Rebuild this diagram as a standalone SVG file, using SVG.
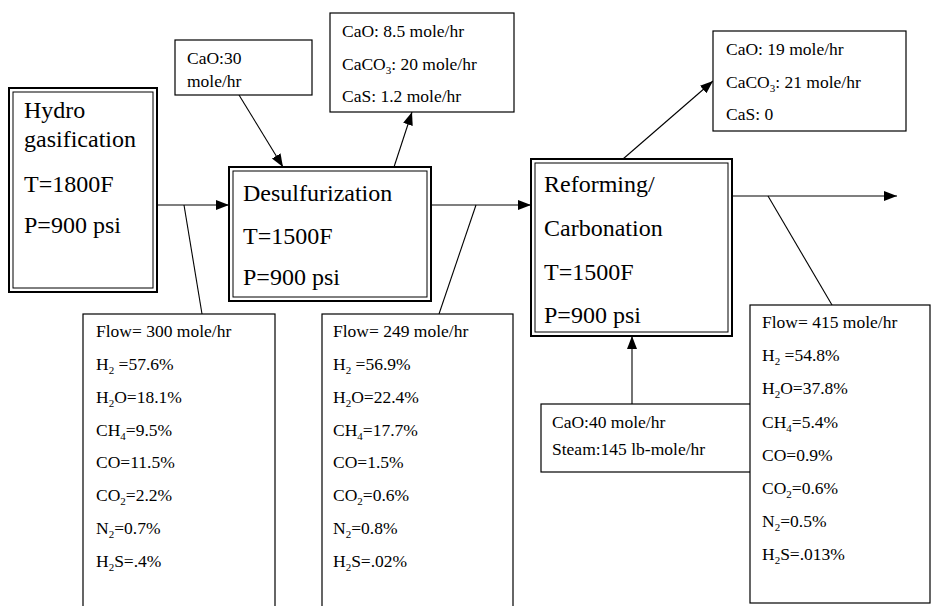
<svg xmlns="http://www.w3.org/2000/svg" width="935" height="606" viewBox="0 0 935 606">
<style>
text{font-family:"Liberation Serif","Times New Roman",serif;fill:#000}
.big{font-size:24px}
.sm{font-size:17.5px}
.sub{font-size:11px}
.box{fill:#fff;stroke:#000;stroke-width:1.2}
.outer{fill:#fff;stroke:#000;stroke-width:2}
.inner{fill:none;stroke:#000;stroke-width:1}
.ln{stroke:#000;stroke-width:1.1;fill:none}
</style>
<defs>
<marker id="ah" markerUnits="userSpaceOnUse" markerWidth="14" markerHeight="11" refX="13" refY="5" orient="auto">
<path d="M0,0 L13,5 L0,10 z" fill="#000"/>
</marker>
</defs>
<rect width="935" height="606" fill="#fff"/>
<g id="connectors">
<line class="ln" x1="157" y1="205" x2="229" y2="205" marker-end="url(#ah)"/>
<line class="ln" x1="184" y1="205" x2="202" y2="314"/>
<line class="ln" x1="239" y1="95" x2="283" y2="167" marker-end="url(#ah)"/>
<line class="ln" x1="394" y1="167" x2="412" y2="112" marker-end="url(#ah)"/>
<line class="ln" x1="431" y1="205" x2="531" y2="205" marker-end="url(#ah)"/>
<line class="ln" x1="476" y1="205" x2="439" y2="314"/>
<line class="ln" x1="623" y1="159" x2="713" y2="81" marker-end="url(#ah)"/>
<line class="ln" x1="732" y1="196" x2="897" y2="196" marker-end="url(#ah)"/>
<line class="ln" x1="768" y1="196" x2="832" y2="305"/>
<line class="ln" x1="632" y1="404" x2="632" y2="336" marker-end="url(#ah)"/>
</g>
<g id="hydro">
<rect class="outer" x="9" y="88" width="148" height="204"/>
<rect class="inner" x="13" y="92" width="140" height="196"/>
<text class="big" x="24" y="118">Hydro</text>
<text class="big" x="24" y="147">gasification</text>
<text class="big" x="24" y="192">T=1800F</text>
<text class="big" x="24" y="233">P=900 psi</text>
</g>
<g id="desulf">
<rect class="outer" x="229" y="167" width="202" height="134"/>
<rect class="inner" x="233" y="171" width="194" height="126"/>
<text class="big" x="243" y="201">Desulfurization</text>
<text class="big" x="243" y="244">T=1500F</text>
<text class="big" x="243" y="285">P=900 psi</text>
</g>
<g id="reformer">
<rect class="outer" x="531" y="159" width="201" height="177"/>
<rect class="inner" x="535" y="163" width="193" height="169"/>
<text class="big" x="544" y="192">Reforming/</text>
<text class="big" x="544" y="236">Carbonation</text>
<text class="big" x="544" y="280">T=1500F</text>
<text class="big" x="544" y="323">P=900 psi</text>
</g>
<g id="cao30">
<rect class="box" x="175" y="40" width="137" height="55"/>
<text class="sm" x="187" y="64">CaO:30</text>
<text class="sm" x="187" y="87">mole/hr</text>
</g>
<g id="desulf-solids">
<rect class="box" x="330" y="13" width="184" height="99"/>
<text class="sm" x="342" y="37">CaO: 8.5 mole/hr</text>
<text class="sm" x="342" y="69.5">CaCO<tspan class="sub" dy="4">3</tspan><tspan dy="-4">: 20 mole/hr</tspan></text>
<text class="sm" x="342" y="102">CaS: 1.2 mole/hr</text>
</g>
<g id="reformer-solids">
<rect class="box" x="713" y="31" width="193" height="100"/>
<text class="sm" x="726" y="55">CaO: 19 mole/hr</text>
<text class="sm" x="726" y="88">CaCO<tspan class="sub" dy="4">3</tspan><tspan dy="-4">: 21 mole/hr</tspan></text>
<text class="sm" x="726" y="120">CaS: 0</text>
</g>
<g id="cao40">
<rect class="box" x="541" y="404" width="211" height="68"/>
<text class="sm" x="552" y="428">CaO:40 mole/hr</text>
<text class="sm" x="552" y="455">Steam:145 lb-mole/hr</text>
</g>
<g id="flow1">
<rect class="box" x="83" y="314" width="192" height="310"/>
<text class="sm" x="96" y="337">Flow= 300 mole/hr</text>
<text class="sm" x="96" y="370">H<tspan class="sub" dy="4">2</tspan><tspan dy="-4"> =57.6%</tspan></text>
<text class="sm" x="96" y="403">H<tspan class="sub" dy="4">2</tspan><tspan dy="-4">O=18.1%</tspan></text>
<text class="sm" x="96" y="436">CH<tspan class="sub" dy="4">4</tspan><tspan dy="-4">=9.5%</tspan></text>
<text class="sm" x="96" y="468">CO=11.5%</text>
<text class="sm" x="96" y="501">CO<tspan class="sub" dy="4">2</tspan><tspan dy="-4">=2.2%</tspan></text>
<text class="sm" x="96" y="534">N<tspan class="sub" dy="4">2</tspan><tspan dy="-4">=0.7%</tspan></text>
<text class="sm" x="96" y="567">H<tspan class="sub" dy="4">2</tspan><tspan dy="-4">S=.4%</tspan></text>
</g>
<g id="flow2">
<rect class="box" x="322" y="314" width="191" height="310"/>
<text class="sm" x="333" y="337">Flow= 249 mole/hr</text>
<text class="sm" x="333" y="370">H<tspan class="sub" dy="4">2</tspan><tspan dy="-4"> =56.9%</tspan></text>
<text class="sm" x="333" y="403">H<tspan class="sub" dy="4">2</tspan><tspan dy="-4">O=22.4%</tspan></text>
<text class="sm" x="333" y="436">CH<tspan class="sub" dy="4">4</tspan><tspan dy="-4">=17.7%</tspan></text>
<text class="sm" x="333" y="468">CO=1.5%</text>
<text class="sm" x="333" y="501">CO<tspan class="sub" dy="4">2</tspan><tspan dy="-4">=0.6%</tspan></text>
<text class="sm" x="333" y="534">N<tspan class="sub" dy="4">2</tspan><tspan dy="-4">=0.8%</tspan></text>
<text class="sm" x="333" y="567">H<tspan class="sub" dy="4">2</tspan><tspan dy="-4">S=.02%</tspan></text>
</g>
<g id="flow3">
<rect class="box" x="750" y="305" width="180" height="298"/>
<text class="sm" x="762" y="328">Flow= 415 mole/hr</text>
<text class="sm" x="762" y="361">H<tspan class="sub" dy="4">2</tspan><tspan dy="-4"> =54.8%</tspan></text>
<text class="sm" x="762" y="394">H<tspan class="sub" dy="4">2</tspan><tspan dy="-4">O=37.8%</tspan></text>
<text class="sm" x="762" y="428">CH<tspan class="sub" dy="4">4</tspan><tspan dy="-4">=5.4%</tspan></text>
<text class="sm" x="762" y="461">CO=0.9%</text>
<text class="sm" x="762" y="494">CO<tspan class="sub" dy="4">2</tspan><tspan dy="-4">=0.6%</tspan></text>
<text class="sm" x="762" y="527">N<tspan class="sub" dy="4">2</tspan><tspan dy="-4">=0.5%</tspan></text>
<text class="sm" x="762" y="560">H<tspan class="sub" dy="4">2</tspan><tspan dy="-4">S=.013%</tspan></text>
</g>
</svg>
